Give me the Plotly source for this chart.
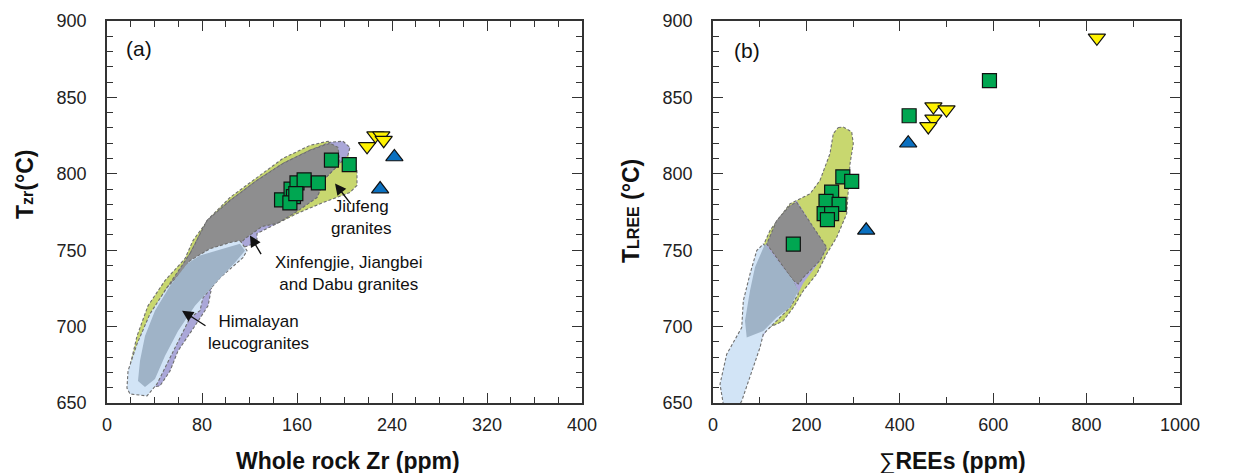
import plotly.graph_objects as go

# ---------------- sample data ----------------
# (a) whole-rock Zr (ppm) vs zircon saturation temperature (°C)
zr_green = [147, 155, 157, 154, 160, 166, 178, 189, 204, 159]
tzr_green = [783, 790, 785, 781, 794, 796, 794, 809, 806, 787]
zr_yellow = [219, 226, 231, 233]
tzr_yellow = [818, 825, 825, 822]
zr_blue = [242, 230]
tzr_blue = [811, 790]

# (b) total REE (ppm) vs monazite saturation temperature (°C)
ree_green = [592, 420, 278, 297, 254, 242, 270, 238, 254, 245, 172]
tlree_green = [861, 838, 798, 795, 788, 782, 780, 774, 774, 770, 754]
ree_yellow = [472, 500, 472, 461, 822]
tlree_yellow = [844, 842, 836, 831, 889]
ree_blue = [418, 328]
tlree_blue = [820, 763]

# ---------------- reference fields ----------------
# panel (a)
jiufeng_a_x = [17.7, 19.4, 25.3, 34.5, 48.8, 65.7, 72.4, 86.7, 103.6, 126.3, 148.2, 170.9, 186.1,
               196.2, 204.6, 210.5, 210.5, 204.6, 181.9, 160.0, 143.2, 130.5, 116.2, 99.4, 82.5,
               65.7, 48.8, 36.2, 26.1]
jiufeng_a_y = [662.5, 674.3, 693.9, 713.6, 730.1, 744.5, 756.3, 771.4, 784.5, 797.6, 810.1, 818.6,
               821.3, 818.6, 810.1, 802.2, 792.4, 787.8, 781.2, 774.0, 767.5, 766.1, 757.6, 741.9,
               723.5, 703.8, 684.1, 664.4, 657.9]
xinfeng_a_x = [27.8, 26.1, 36.2, 53.1, 69.9, 84.2, 103.6, 126.3, 148.2, 170.9, 187.8, 198.7, 204.6,
               202.9, 196.2, 183.6, 176.8, 160.0, 143.2, 126.3, 126.3, 112.0, 99.4, 88.4, 85.1,
               74.1, 59.8, 53.1, 44.6]
xinfeng_a_y = [659.2, 674.3, 703.8, 725.5, 747.8, 769.4, 782.5, 795.7, 806.8, 815.4, 820.6, 821.3,
               817.3, 812.1, 806.8, 797.0, 784.5, 776.0, 767.5, 760.9, 755.0, 751.0, 741.9, 726.8,
               713.6, 700.5, 684.1, 671.0, 661.2]
overlap_a_x = [69.9, 84.2, 103.6, 126.3, 148.2, 170.9, 187.8, 194.5, 196.2, 183.6, 176.8, 160.0,
               143.2, 130.5, 116.2, 99.4, 78.3, 61.5, 44.6, 32.0, 26.1, 32.0, 48.8]
overlap_a_y = [747.8, 769.4, 782.5, 795.7, 806.8, 815.4, 820.0, 817.3, 806.8, 797.0, 784.5, 775.3,
               767.5, 765.5, 757.6, 743.2, 726.8, 703.8, 677.6, 661.2, 667.7, 697.2, 723.5]
himal_a_x = [112.0, 117.9, 114.5, 95.2, 80.8, 78.3, 69.9, 58.9, 50.5, 42.1, 33.7, 19.4, 16.8, 17.7,
             25.3, 36.2, 50.5, 61.5, 69.9, 86.7, 103.6]
himal_a_y = [756.3, 749.7, 745.1, 732.0, 718.9, 710.4, 705.8, 688.7, 675.6, 662.5, 654.6, 655.9,
             659.8, 671.0, 688.7, 708.4, 725.5, 734.6, 743.2, 751.0, 755.0]
himal_core_a_x = [67.4, 53.1, 40.4, 32.0, 27.8, 26.1, 32.0, 40.4, 48.8, 59.8, 74.1, 90.9, 107.8,
                  116.2, 112.0, 90.9, 78.3]
himal_core_a_y = [741.2, 726.8, 710.4, 693.9, 677.6, 664.4, 660.5, 665.7, 680.8, 697.2, 713.6,
                  728.1, 741.9, 749.7, 754.3, 749.7, 746.5]

# panel (b)
jiufeng_b_x = [268.3, 279.0, 297.0, 300.4, 293.4, 286.3, 264.9, 243.5, 222.1, 193.4, 172.0, 150.5,
               136.4, 100.6, 79.2, 93.6, 122.0, 164.9, 207.7, 229.1, 250.5, 257.6]
jiufeng_b_y = [830.3, 830.6, 827.4, 819.7, 806.6, 773.8, 758.5, 747.6, 734.4, 723.5, 712.5, 703.8,
               701.6, 697.2, 725.7, 743.2, 762.9, 780.4, 786.9, 795.7, 813.2, 826.3]
xinfeng_b_x = [179.2, 243.5, 229.1, 193.4, 182.7, 150.0, 120.0, 100.0, 85.0, 95.0, 110.0, 150.0]
xinfeng_b_y = [782.5, 751.0, 743.0, 728.5, 722.0, 712.0, 700.0, 690.0, 692.0, 730.0, 752.0, 772.0]
overlap_b_x = [179.2, 243.5, 229.1, 193.4, 182.7, 172.0, 115.0, 136.4, 164.9]
overlap_b_y = [781.4, 751.9, 743.2, 732.2, 727.9, 730.0, 754.1, 769.4, 779.3]
himal_b_x = [107.7, 172.0, 182.7, 164.9, 136.4, 107.7, 100.6, 86.3, 72.2, 61.5, 57.8, 22.0, 15.0,
             29.3, 61.5, 64.9, 79.2, 93.6]
himal_b_y = [754.1, 730.0, 721.3, 712.5, 703.8, 695.1, 686.3, 673.2, 660.1, 651.3, 649.3, 649.3,
             662.3, 681.9, 699.4, 716.9, 734.4, 749.7]
himal_core_b_x = [111.3, 172.0, 182.7, 164.9, 136.4, 107.7, 72.2, 68.5, 79.2, 89.9]
himal_core_b_y = [754.1, 730.0, 723.5, 712.5, 706.0, 697.2, 692.8, 703.8, 723.5, 738.8]

# ---------------- styling ----------------
C_JIUFENG = "#c8d76f"
C_XINFENG = "#aaa7d8"
C_OVERLAP = "#8e8e8f"
C_HIMAL = "#d2e4f6"
C_HIMAL_CORE = "#9fb3c7"
EDGE = dict(color="#6f6f6f", width=1.1, dash="3px,2px")

FONT = "Liberation Sans, Arial, sans-serif"

fig = go.Figure()


def field(xs, ys, color, xa, ya, edge=True):
    fig.add_trace(go.Scatter(
        x=xs + xs[:1], y=ys + ys[:1], mode="lines", fill="toself", fillcolor=color,
        line=EDGE if edge else dict(width=0), xaxis=xa, yaxis=ya,
        hoverinfo="skip", showlegend=False))


for xa, ya, layers in [
    ("x", "y", [(jiufeng_a_x, jiufeng_a_y, C_JIUFENG, True),
                (xinfeng_a_x, xinfeng_a_y, C_XINFENG, True),
                (overlap_a_x, overlap_a_y, C_OVERLAP, True),
                (himal_a_x, himal_a_y, C_HIMAL, True),
                (himal_core_a_x, himal_core_a_y, C_HIMAL_CORE, False)]),
    ("x2", "y2", [(jiufeng_b_x, jiufeng_b_y, C_JIUFENG, True),
                  (xinfeng_b_x, xinfeng_b_y, C_XINFENG, False),
                  (overlap_b_x, overlap_b_y, C_OVERLAP, True),
                  (himal_b_x, himal_b_y, C_HIMAL, True),
                  (himal_core_b_x, himal_core_b_y, C_HIMAL_CORE, False)]),
]:
    for xs, ys, c, e in layers:
        field(xs, ys, c, xa, ya, e)


def points(xs, ys, symbol, color, size, xa, ya):
    fig.add_trace(go.Scatter(
        x=xs, y=ys, mode="markers", xaxis=xa, yaxis=ya, showlegend=False,
        marker=dict(symbol=symbol, color=color, size=size,
                    line=dict(color="#111111", width=1.2))))


points(zr_blue, tzr_blue, "triangle-up", "#0a70c0", 15, "x", "y")
points(zr_yellow, tzr_yellow, "triangle-down", "#fff200", 15, "x", "y")
points(zr_green, tzr_green, "square", "#00a651", 14, "x", "y")
points(ree_blue, tlree_blue, "triangle-up", "#0a70c0", 15, "x2", "y2")
points(ree_yellow, tlree_yellow, "triangle-down", "#fff200", 15, "x2", "y2")
points(ree_green, tlree_green, "square", "#00a651", 14, "x2", "y2")

axis_common = dict(
    automargin=False,
    showgrid=False, zeroline=False, showline=True, linecolor="#333333", linewidth=1.5,
    mirror="ticks", ticks="inside", ticklen=10, tickwidth=1.2, tickcolor="#333333",
    tickfont=dict(family=FONT, size=18, color="#222222"),
)
minor_common = dict(ticks="inside", ticklen=6, tickwidth=1.1, tickcolor="#333333", showgrid=False)

X_DOM_A = [107 / 1233, 582 / 1233]
X_DOM_B = [713 / 1233, 1180 / 1233]
Y_DOM = [1 - 403 / 473, 1 - 21 / 473]

fig.update_layout(
    width=1233, height=473, margin=dict(l=0, r=0, t=0, b=0),
    paper_bgcolor="white", plot_bgcolor="white",
    xaxis=dict(domain=X_DOM_A, range=[0, 400], tickvals=[0, 80, 160, 240, 320, 400],
               minor=dict(dtick=20, **minor_common), anchor="y", ticklabelstandoff=5,
               **axis_common),
    yaxis=dict(domain=Y_DOM, range=[650, 900], dtick=50,
               minor=dict(dtick=10, **minor_common), anchor="x", ticklabelstandoff=15,
               **axis_common),
    xaxis2=dict(domain=X_DOM_B, range=[0, 1000], dtick=200,
                minor=dict(dtick=100, **minor_common), anchor="y2", ticklabelstandoff=5,
                **axis_common),
    yaxis2=dict(domain=Y_DOM, range=[650, 900], dtick=50,
                minor=dict(dtick=10, **minor_common), anchor="x2", ticklabelstandoff=15,
                **axis_common),
)

TITLE_FONT = dict(family=FONT, size=23, color="#111111")
ann = [
    dict(text="<b>Whole rock Zr (ppm)</b>", x=348 / 1233, y=1 - 461 / 473),
    dict(text="∑<b>REEs (ppm)</b>", x=952 / 1233, y=1 - 461 / 473),
    dict(text="<b>T<span style='font-size:16px'>zr</span>(°C)</b>", x=25 / 1233,
         y=1 - 184 / 473, textangle=-90),
    dict(text="<b>T<span style='font-size:16px'>LREE</span> (°C)</b>", x=631 / 1233,
         y=1 - 211 / 473, textangle=-90),
]
for a in ann:
    fig.add_annotation(xref="paper", yref="paper", showarrow=False, font=TITLE_FONT,
                       xanchor="center", yanchor="middle", **a)

LABEL_FONT = dict(family=FONT, size=17, color="#111111")
fig.add_annotation(xref="x", yref="y", x=27, y=882.3, text="(a)", showarrow=False,
                   font=dict(family=FONT, size=21, color="#111111"))
fig.add_annotation(xref="x2", yref="y2", x=72.8, y=881, text="(b)", showarrow=False,
                   font=dict(family=FONT, size=21, color="#111111"))

# field labels with arrows, panel (a)
labels = [
    ("Jiufeng<br>granites", 213.9, 771.4, 192.0, 793.7, 206.3, 779.3),
    ("Xinfengjie, Jiangbei<br>and Dabu granites", 203.0, 734.6, 120.4, 759.6, 130.5, 746.5),
    ("Himalayan<br>leucogranites", 127.2, 695.9, 63.2, 710.4, 84.2, 699.9),
]
for text, tx, ty, hx, hy, sx, sy in labels:
    fig.add_annotation(xref="x", yref="y", x=tx, y=ty, text=text, showarrow=False,
                       font=LABEL_FONT, align="center")
    fig.add_annotation(xref="x", yref="y", axref="x", ayref="y", x=hx, y=hy, ax=sx, ay=sy,
                       text="", showarrow=True, arrowhead=2, arrowsize=1.6, arrowwidth=1.4,
                       arrowcolor="#111111")

fig.write_html("out.html")
